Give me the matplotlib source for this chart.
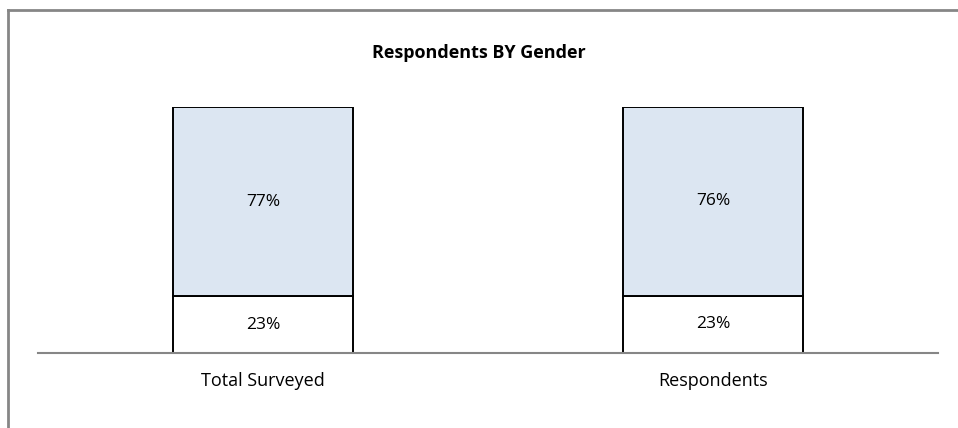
import matplotlib.pyplot as plt
import numpy as np
from matplotlib.lines import Line2D

categories = ['Total Surveyed', 'Respondents']
male = [23, 23]
female = [77, 76]

male = np.array(male, dtype=float)
female = np.array(female, dtype=float)
total = male + female
male_share = male / total * 100
female_share = female / total * 100

plt.rcParams['font.family'] = ['Open Sans', 'DejaVu Sans']

fig = plt.figure(figsize=(9.58, 4.28), dpi=100)
ax = fig.add_axes([38 / 958, 75 / 428, 900 / 958, 246 / 428])

x = np.arange(len(categories))
ax.bar(x, male_share, width=0.40, color='white', edgecolor='black', linewidth=1.4, zorder=2)
ax.bar(x, female_share, width=0.40, bottom=male_share, color='#DCE6F2',
       edgecolor='black', linewidth=1.4, zorder=2)

for i in range(len(categories)):
    ax.text(x[i], male_share[i] / 2, f'{male[i]:.0f}%', ha='center', va='center', fontsize=12.5)
    ax.text(x[i], male_share[i] + female_share[i] / 2, f'{female[i]:.0f}%',
            ha='center', va='center', fontsize=12.5)

ax.set_xlim(-0.5, 1.5)
ax.set_ylim(0, 100)
ax.set_xticks(x)
ax.set_xticklabels(categories, fontsize=13)
ax.tick_params(axis='x', length=0, pad=14)
ax.yaxis.set_visible(False)
for s in ['left', 'top', 'right']:
    ax.spines[s].set_visible(False)
ax.spines['bottom'].set_color('#868686')
ax.spines['bottom'].set_linewidth(1.5)
ax.spines['bottom'].set_zorder(3)

fig.text(0.5, 1 - 53 / 428, 'Respondents BY Gender', ha='center', va='center',
         fontsize=13, fontweight='bold')

# chart border (top and left only visible)
fig.add_artist(Line2D([8 / 958, 1], [1 - 10 / 428, 1 - 10 / 428], color='#868686', lw=2))
fig.add_artist(Line2D([8 / 958, 8 / 958], [0, 1 - 10 / 428], color='#868686', lw=2))

fig.savefig('out.png', dpi=100)
